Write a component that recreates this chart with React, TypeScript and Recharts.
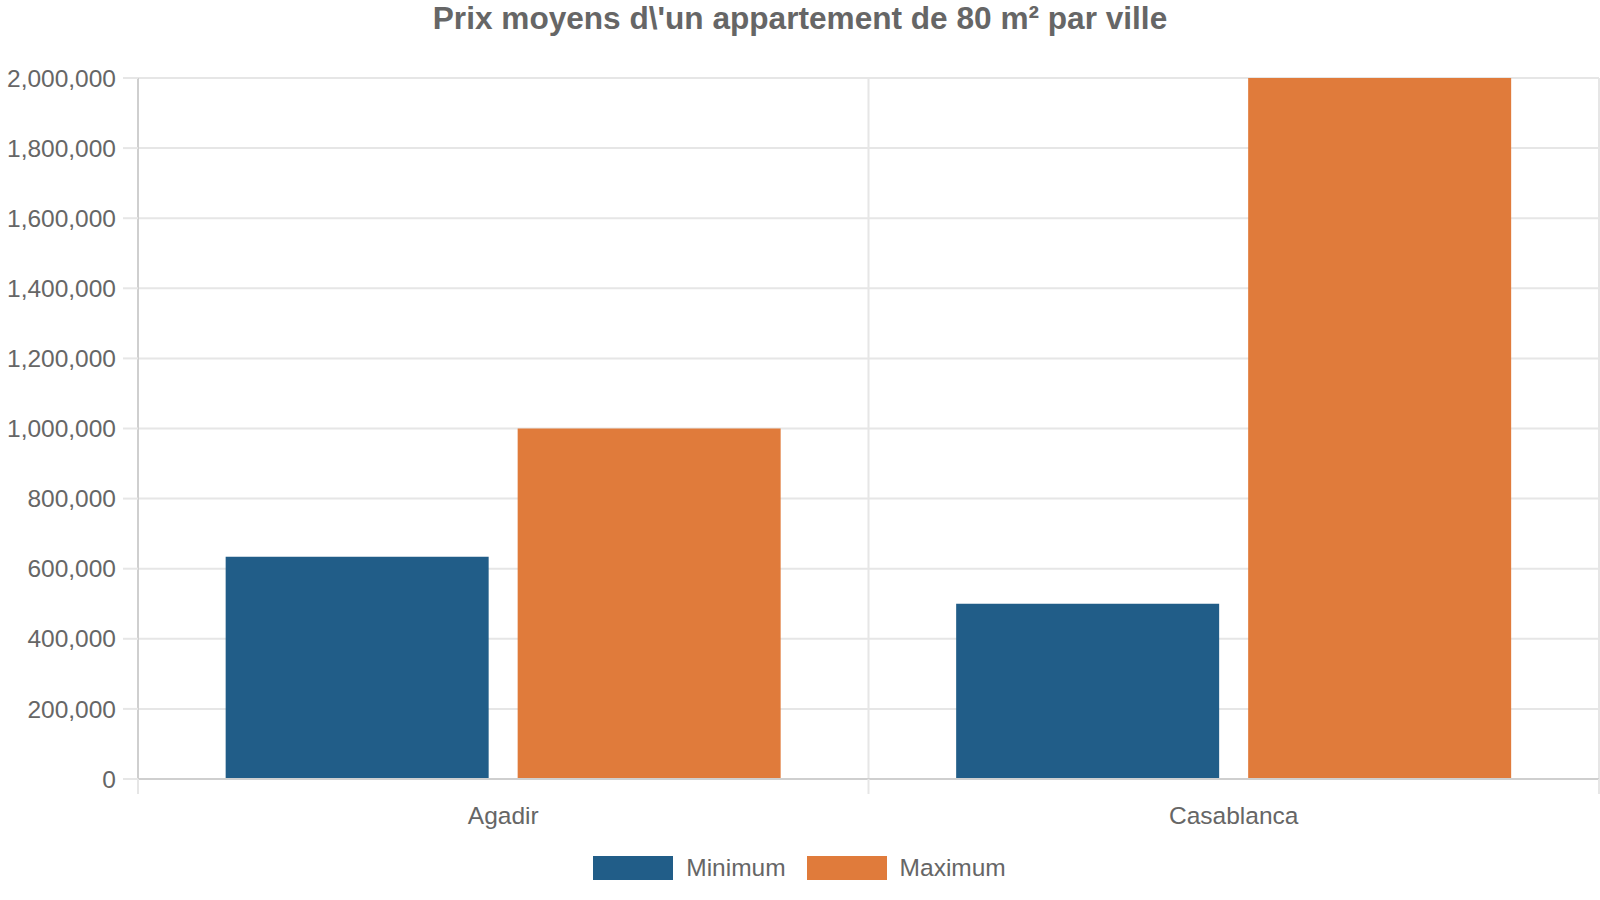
import React from "react";
import {
  Bar,
  BarChart,
  CartesianGrid,
  Legend,
  XAxis,
  YAxis,
} from "recharts";

const CITIES = ["Agadir", "Casablanca"];
const MIN_PRICES = [634000, 500000];
const MAX_PRICES = [1000000, 2000000];
const Y_TICKS = [0, 200000, 400000, 600000, 800000, 1000000, 1200000, 1400000, 1600000, 1800000, 2000000];

const SERIES = [
  { key: "min", name: "Minimum", color: "#215d88" },
  { key: "max", name: "Maximum", color: "#e07b3b" },
];

const data = CITIES.map((city, i) => ({
  city,
  min: MIN_PRICES[i],
  max: MAX_PRICES[i],
}));

const FONT = "'Liberation Sans', Arial, sans-serif";
const TEXT = "#666666";
const GRID = "#e6e6e6";
const AXIS = "#cfcfcf";

// category label plus the small marks at category edges, below the x axis
function CityTick(props: any) {
  const { x, y, payload, index, visibleTicksCount, width } = props;
  const half = payload.offset || width / visibleTicksCount / 2;
  const last = index === visibleTicksCount - 1;
  return (
    <g>
      <line x1={x - half} x2={x - half} y1={y} y2={y + 15} stroke={GRID} strokeWidth={2} />
      {last && <line x1={x + half} x2={x + half} y1={y} y2={y + 15} stroke={GRID} strokeWidth={2} />}
      <text
        x={x}
        y={y + 36}
        dy="0.355em"
        textAnchor="middle"
        fill={TEXT}
        fontSize={24.5}
        fontFamily={FONT}
      >
        {payload.value}
      </text>
    </g>
  );
}

function LegendContent() {
  return (
    <div
      style={{
        display: "flex",
        justifyContent: "center",
        alignItems: "flex-start",
        height: 32,
        paddingTop: 6,
        boxSizing: "border-box",
        fontFamily: FONT,
        fontSize: 24.5,
        lineHeight: "24px",
        color: TEXT,
      }}
    >
      {SERIES.map((s, i) => (
        <div key={s.key} style={{ display: "flex", alignItems: "center", marginLeft: i ? 21 : 0 }}>
          <span style={{ width: 80, height: 24, background: s.color, marginRight: 13 }} />
          <span>{s.name}</span>
        </div>
      ))}
    </div>
  );
}

export default function App() {
  return (
    <div style={{ position: "absolute", left: 0, top: 0, width: 1600, height: 900, background: "#fff" }}>
      <div
        style={{
          position: "absolute",
          left: 0,
          top: 0,
          width: 1600,
          height: 37,
          lineHeight: "37px",
          textAlign: "center",
          fontFamily: FONT,
          fontWeight: "bold",
          fontSize: 31.6,
          color: TEXT,
        }}
      >
        Prix moyens d\'un appartement de 80 m² par ville
      </div>
      <BarChart
        width={1600}
        height={900}
        data={data}
        margin={{ top: 78, right: 1, bottom: 18, left: 0 }}
        barCategoryGap="12%"
        barGap={29}
      >
        <CartesianGrid
          stroke={GRID}
          strokeWidth={2}
          verticalCoordinatesGenerator={({ offset }: any) =>
            [...CITIES.map((_, i) => i), CITIES.length].map(
              (i) => offset.left + (i * offset.width) / CITIES.length
            )
          }
        />
        <XAxis
          dataKey="city"
          height={71}
          axisLine={{ stroke: AXIS, strokeWidth: 2 }}
          tickLine={false}
          tickSize={0}
          tickMargin={0}
          interval={0}
          tick={<CityTick />}
        />
        <YAxis
          width={138}
          domain={[0, 2000000]}
          ticks={Y_TICKS}
          interval={0}
          tickSize={15}
          tickMargin={7}
          tickFormatter={(v: number) => v.toLocaleString("en-US")}
          tick={{ fill: TEXT, fontSize: 24.5, fontFamily: FONT }}
          axisLine={{ stroke: AXIS, strokeWidth: 2 }}
          tickLine={{ stroke: GRID, strokeWidth: 2 }}
        />
        <Legend verticalAlign="bottom" height={32} content={() => <LegendContent />} />
        {SERIES.map((s) => (
          <Bar
            key={s.key}
            dataKey={s.key}
            name={s.name}
            fill={s.color}
            isAnimationActive={false}
          />
        ))}
      </BarChart>
    </div>
  );
}
